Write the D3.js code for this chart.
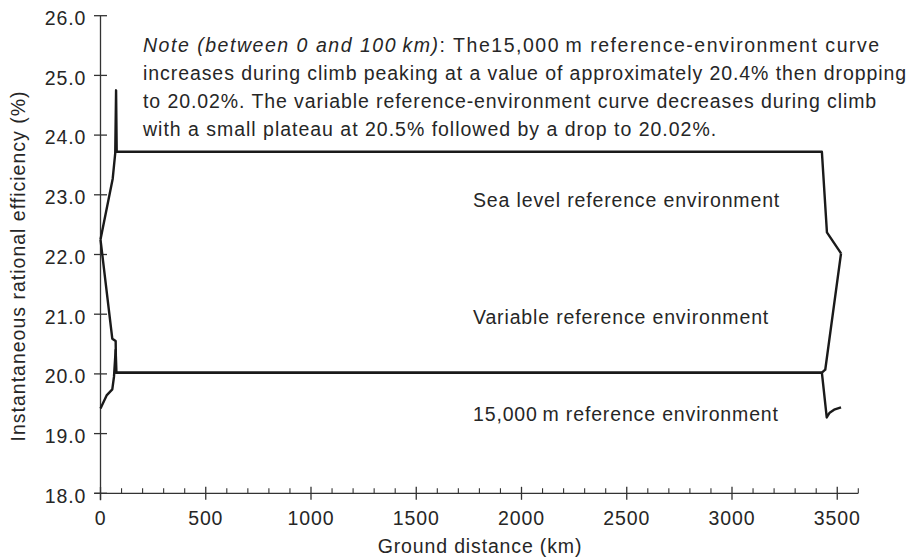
<!DOCTYPE html>
<html>
<head>
<meta charset="utf-8">
<script src="https://cdn.jsdelivr.net/npm/d3@7/dist/d3.min.js"></script>
<style>
  html, body { margin: 0; padding: 0; background: #fff; }
  svg { display: block; }
  text { font-family: "Liberation Sans", Arial, Helvetica, sans-serif; fill: #262626; }
</style>
</head>
<body>
<svg id="chart" width="909" height="560"></svg>
<script>
// ---- data ----
const seaLevelKm  = [0, 58, 70, 74, 77, 3427, 3451, 3518];
const seaLevelEff = [22.25, 23.27, 23.70, 24.75, 23.72, 23.72, 22.37, 22.02];

const variableKm  = [0, 56, 72, 74, 3427, 3443, 3518];
const variableEff = [22.25, 20.59, 20.55, 20.02, 20.02, 20.07, 22.02];

const highAltKm   = [0, 29, 56, 64, 72, 75, 3427, 3450, 3464, 3485, 3518];
const highAltEff  = [19.42, 19.64, 19.74, 19.95, 20.40, 20.02, 20.02, 19.27, 19.35, 19.40, 19.44];

const xMajorTicks = [0, 500, 1000, 1500, 2000, 2500, 3000, 3500];
const yTicks      = [18, 19, 20, 21, 22, 23, 24, 25, 26];

const seriesLabels = ["Sea level reference environment", "Variable reference environment", "15,000\u2009m reference environment"];
const seriesLabelY = [22.92, 20.96, 19.33];
const noteLines = [
  ["Note (between 0 and 100\u2009km)", ": The15,000\u2009m reference-environment curve"],
  ["", "increases during climb peaking at a value of approximately 20.4% then dropping"],
  ["", "to 20.02%. The variable reference-environment curve decreases during climb"],
  ["", "with a small plateau at 20.5% followed by a drop to 20.02%."]
];
const noteLineWidths = [737, 764, 734, 574];

// ---- drawing ----
const svg = d3.select("#chart");
const x = d3.scaleLinear().domain([0, 3600]).range([100.5, 858.3]);
const y = d3.scaleLinear().domain([18, 26]).range([493.3, 15.7]);
const FS = 19.5, LS = "0.85px";
const axisColor = "#333";

// x axis
const xMinor = d3.range(0, 3601, 100).filter(v => v % 500 !== 0);
const gx = svg.append("g").attr("transform", `translate(0,${y(18)})`);
gx.append("line").attr("x1", x(0) - 6).attr("x2", x(3600)).attr("stroke", axisColor).attr("stroke-width", 1.3);
gx.selectAll(".minor").data(xMinor).enter().append("line")
  .attr("x1", d => x(d)).attr("x2", d => x(d)).attr("y1", 0).attr("y2", -5)
  .attr("stroke", axisColor).attr("stroke-width", 1.1);
gx.selectAll(".major").data(xMajorTicks).enter().append("line")
  .attr("x1", d => x(d)).attr("x2", d => x(d)).attr("y1", -6.5).attr("y2", 6.5)
  .attr("stroke", axisColor).attr("stroke-width", 1.3);
gx.selectAll(".lbl").data(xMajorTicks).enter().append("text")
  .attr("x", d => x(d)).attr("y", 31.7).attr("text-anchor", "middle")
  .attr("font-size", FS).attr("letter-spacing", LS).text(d => d);

// y axis
const gy = svg.append("g").attr("transform", `translate(${x(0)},0)`);
gy.append("line").attr("y1", y(26)).attr("y2", y(18) + 7).attr("stroke", axisColor).attr("stroke-width", 1.3);
gy.selectAll(".tk").data(yTicks).enter().append("line")
  .attr("x1", -6.5).attr("x2", 6.5).attr("y1", d => y(d)).attr("y2", d => y(d))
  .attr("stroke", axisColor).attr("stroke-width", 1.3);
gy.selectAll(".lbl").data(yTicks).enter().append("text")
  .attr("x", -14.3).attr("y", d => y(d) + 9.3).attr("text-anchor", "end")
  .attr("font-size", FS).attr("letter-spacing", LS).text(d => d.toFixed(1));

// axis titles
svg.append("text").attr("x", 480).attr("y", 553).attr("text-anchor", "middle")
  .attr("font-size", FS).attr("letter-spacing", LS).text("Ground distance (km)");
svg.append("text").attr("transform", "translate(25,266) rotate(-90)").attr("text-anchor", "middle")
  .attr("font-size", FS).attr("letter-spacing", "1px").text("Instantaneous rational efficiency (%)");

// curves
const line = d3.line().x(d => x(d[0])).y(d => y(d[1]));
const series = [
  d3.zip(seaLevelKm, seaLevelEff),
  d3.zip(variableKm, variableEff),
  d3.zip(highAltKm, highAltEff)
];
svg.selectAll(".curve").data(series).enter().append("path")
  .attr("d", line).attr("fill", "none").attr("stroke", "#1a1a1a")
  .attr("stroke-width", 2.4).attr("stroke-linejoin", "round");

// series labels
svg.selectAll(".slbl").data(seriesLabels).enter().append("text")
  .attr("x", 473).attr("y", (d, i) => y(seriesLabelY[i]) + 7)
  .attr("font-size", FS).attr("letter-spacing", LS).text(d => d);

// note
noteLines.forEach((ln, i) => {
  const t = svg.append("text").attr("x", 143).attr("y", 52 + i * 28)
    .attr("font-size", FS).attr("letter-spacing", LS);
  if (noteLineWidths[i]) t.attr("textLength", noteLineWidths[i]).attr("lengthAdjust", "spacing");
  if (ln[0]) t.append("tspan").attr("font-style", "italic").text(ln[0]);
  t.append("tspan").text(ln[1]);
});
</script>
</body>
</html>
